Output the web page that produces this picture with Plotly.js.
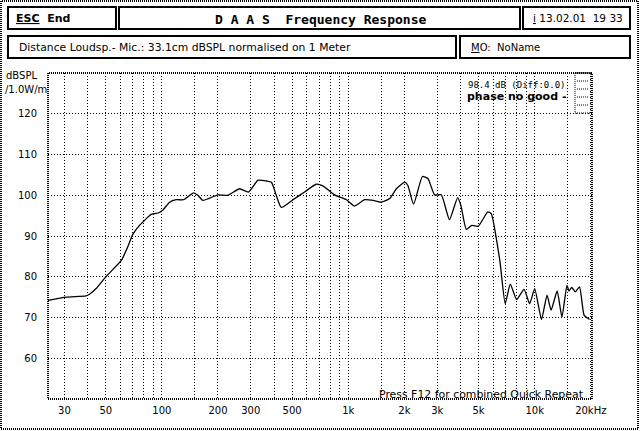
<!DOCTYPE html>
<html>
<head>
<meta charset="utf-8">
<script src="https://cdn.plot.ly/plotly-3.0.1.min.js"></script>
<style>
html,body{margin:0;padding:0;background:#fff;}
#chart{width:640px;height:431px;}
</style>
</head>
<body>
<div id="chart"></div>
<script>
// ---- data ----
const freqHz = [24.5, 30.7, 39.2, 40.9, 44.4, 50.3, 60.6, 65.0, 69.9, 75.9, 87.7, 96.4, 101, 110, 119.5, 130.7, 148, 156, 166, 200, 226, 261, 292, 328, 364, 387, 408, 437, 505, 583, 673, 730, 844, 977, 1081, 1225, 1360, 1506, 1670, 1812, 2008, 2088, 2240, 2500, 2675, 2905, 3155, 3490, 3860, 4020, 4300, 4600, 4980, 5600, 5845, 6500, 6950, 7400, 8000, 8770, 9400, 10000, 10880, 11650, 12250, 13200, 14000, 14900, 15300, 15800, 16500, 17400, 18400, 19300, 19700];
const splDb = [74.2, 75.0, 75.3, 75.7, 77.1, 80.1, 84.0, 86.9, 90.4, 92.6, 95.3, 95.7, 96.3, 98.3, 98.9, 98.9, 100.6, 100.0, 98.75, 100.1, 100.0, 101.6, 100.8, 103.7, 103.5, 103.2, 100.4, 97.0, 98.9, 100.8, 102.7, 102.3, 100.1, 98.9, 97.35, 98.9, 98.75, 98.3, 99.2, 101.6, 103.2, 102.4, 97.8, 104.6, 104.1, 100.1, 100.1, 94.0, 99.4, 97.5, 91.6, 92.6, 92.4, 95.9, 95.5, 84.0, 73.4, 78.2, 74.4, 76.9, 73.4, 77.1, 69.5, 75.5, 71.8, 76.5, 70.1, 77.9, 76.5, 77.4, 76.3, 77.5, 70.6, 69.8, 69.5];
const xGridVals = [30,40,50,60,70,80,90,100,150,200,300,400,500,600,700,800,900,1000,1500,2000,3000,4000,5000,6000,7000,8000,9000,10000,15000,20000];
const xTickText = ["30","","50","","","","","100","","200","300","","500","","","","","1k","","2k","3k","","5k","","","","","10k","","20kHz"];
const yTickVals = [60,70,80,90,100,110,120];
const yTickText = ["60","70","80","90","100","110","120"];

// ---- layout helpers (pixel -> paper) ----
const L=48, R=48, T=73, B=32, W=640, H=431;
const PW=W-L-R, PH=H-T-B;
const px = x => (x-L)/PW;
const py = y => (H-B-y)/PH;
const FONT = "DejaVu Sans";
const MONO = "DejaVu Sans Mono";

function box(x0,y0,x1,y1,w,dash,col){
  return {type:'rect', xref:'paper', yref:'paper', x0:px(x0), x1:px(x1), y0:py(y1), y1:py(y0),
    line:{color:col||'#000', width:w||2, dash:dash||'solid'}, fillcolor:'rgba(0,0,0,0)', layer:'above'};
}
function txt(x,y,text,opts){
  opts=opts||{};
  return {xref:'paper', yref:'paper', x:px(x), y:py(y), text:text, showarrow:false,
    xanchor:opts.xa||'left', yanchor:'middle',
    font:{family:opts.family||FONT, size:opts.size||10, color:'#000'}};
}

const shapes = [
  box(1,1,638,429,2,'1px,1px','#000'),
  box(8,7,116,29,2),
  box(119,7,520,29,2),
  box(523,7,630,29,2),
  box(8,36,456,58,2),
  box(460,36,630,58,2),
  // plot frame
  {type:'rect', xref:'paper', yref:'paper', x0:0, x1:1, y0:0, y1:1, line:{color:'#000', width:2, dash:'1px,1px'}, layer:'above'},
  // small indicator box top right
  box(575,73,591,113,1,'1px,1px','#000'),
];
[81,89,97,105].forEach(y=>shapes.push({type:'line', xref:'paper', yref:'paper', x0:px(577), x1:px(589), y0:py(y), y1:py(y), line:{color:'#000', width:1, dash:'1px,1px'}}));

const annotations = [
  txt(14,18,"<b><span style='text-decoration:underline'>ESC</span>  End</b>",{size:11}),
  txt(320,19,"<b>D A A S  Frequency Response</b>",{xa:'center', size:13, family:MONO}),
  txt(531,18,"<span style='text-decoration:underline'>i</span> 13.02.01  19 33",{size:10.5}),
  txt(17,47,"Distance Loudsp.- Mic.: 33.1cm dBSPL normalised on 1 Meter",{size:10.8}),
  txt(469,47,"<span style='text-decoration:underline'>M</span>O:  NoName",{size:10}),
  txt(39,76,"dBSPL",{xa:'right', size:10}),
  txt(49,89,"/1.0W/m",{xa:'right', size:10}),
  txt(568,85,"98.4 dB (Diff:0.0)",{xa:'right', size:9, family:MONO}),
  txt(568,96,"<b>phase no good -</b>",{xa:'right', size:11}),
  txt(586,394,"Press F12 for combined Quick Repeat",{xa:'right', size:10.9}),
];

const trace = {
  x: freqHz, y: splDb, type:'scatter', mode:'lines',
  line:{color:'#000', width:1.3, shape:'spline', smoothing:0.5},
  hoverinfo:'skip'
};

const layout = {
  width:W, height:H,
  margin:{l:L, r:R, t:T, b:B, pad:0},
  paper_bgcolor:'#fff', plot_bgcolor:'#fff',
  showlegend:false,
  font:{family:FONT, size:10, color:'#000'},
  xaxis:{type:'log', range:[Math.log10(24.5), Math.log10(20300)],
    tickmode:'array', tickvals:xGridVals, ticktext:xTickText,
    showgrid:true, gridcolor:'#000', gridwidth:1, griddash:'1px,2px',
    zeroline:false, showline:false, ticks:'', ticklabelstandoff:4,
    tickfont:{family:FONT, size:10, color:'#000'}, fixedrange:true},
  yaxis:{range:[50,130], tickmode:'array', tickvals:yTickVals, ticktext:yTickText,
    showgrid:true, gridcolor:'#000', gridwidth:1, griddash:'1px,2px',
    zeroline:false, showline:false, ticks:'', ticklabelstandoff:10,
    tickfont:{family:FONT, size:10, color:'#000'}, fixedrange:true},
  shapes:shapes,
  annotations:annotations
};

Plotly.newPlot('chart',[trace],layout,{staticPlot:true, displayModeBar:false});
</script>
</body>
</html>
